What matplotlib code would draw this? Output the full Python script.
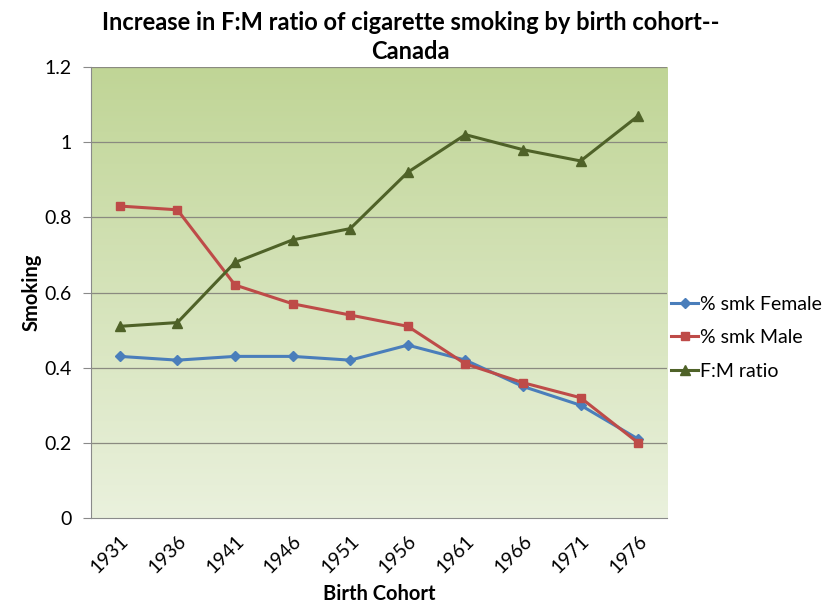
import matplotlib

matplotlib.use("Agg")

import matplotlib.pyplot as plt
import numpy as np

cohorts = ["1931", "1936", "1941", "1946", "1951", "1956", "1961", "1966", "1971", "1976"]
female = [0.43, 0.42, 0.43, 0.43, 0.42, 0.46, 0.42, 0.35, 0.30, 0.21]
male = [0.83, 0.82, 0.62, 0.57, 0.54, 0.51, 0.41, 0.36, 0.32, 0.20]
ratio = [0.51, 0.52, 0.68, 0.74, 0.77, 0.92, 1.02, 0.98, 0.95, 1.07]
yticks = [0, 0.2, 0.4, 0.6, 0.8, 1.0, 1.2]
ytick_labels = ["0", "0.2", "0.4", "0.6", "0.8", "1", "1.2"]

plt.rcParams["font.family"] = ["Lato", "DejaVu Sans"]

fig = plt.figure(figsize=(8.33, 6.05), dpi=100)
ax = fig.add_axes([91 / 833, 1 - 518 / 605, 576 / 833, 451 / 605])

x = np.arange(len(cohorts))
xmin, xmax = -0.5, len(cohorts) - 0.5

# vertical green gradient behind the data
top = np.array([192, 213, 150]) / 255
bottom = np.array([234, 241, 221]) / 255
t = np.linspace(0, 1, 256)[:, None]
grad = top * (1 - t) + bottom * t
ax.imshow(grad[:, None, :], extent=[xmin, xmax, 0, 1.2], aspect="auto",
          origin="upper", zorder=0)

for yv in yticks[1:]:
    ax.axhline(yv, color="#8a8a80", lw=0.9, zorder=1)

ax.plot(x, female, color="#4a7ebb", lw=2.2, marker="D", ms=5, label="% smk Female", zorder=3)
ax.plot(x, male, color="#be4b48", lw=2.2, marker="s", ms=6, label="% smk Male", zorder=3)
ax.plot(x, ratio, color="#4f6228", lw=2.2, marker="^", ms=7, label="F:M ratio", zorder=3)

ax.set_xlim(xmin, xmax)
ax.set_ylim(0, 1.2)
ax.set_yticks(yticks)
ax.set_yticklabels(ytick_labels, fontsize=14)
ax.set_xticks(x)
ax.set_xticklabels(cohorts, rotation=45, ha="right", rotation_mode="anchor", fontsize=14)
ax.tick_params(axis="y", length=6, color="#8a8a8a", pad=8)
ax.tick_params(axis="x", length=0, pad=10)

for side in ["top", "right"]:
    ax.spines[side].set_visible(False)
ax.spines["left"].set_color("#8a8a8a")
ax.spines["bottom"].set_color("#8a8a8a")

ax.set_ylabel("Smoking", fontsize=14.5, fontweight="bold", labelpad=2)
ax.set_xlabel("Birth Cohort", fontsize=14.5, fontweight="bold", labelpad=6)

fig.suptitle("Increase in F:M ratio of cigarette smoking by birth cohort--\nCanada",
             x=0.493, y=0.982, fontsize=17, fontweight="bold", linespacing=1.3)

ax.legend(loc="center left", bbox_to_anchor=(0.99, 0.40), frameon=False, fontsize=14,
          handlelength=1.4, handletextpad=0.1, labelspacing=0.85, borderaxespad=0.1)

fig.savefig("out.png", dpi=100)
